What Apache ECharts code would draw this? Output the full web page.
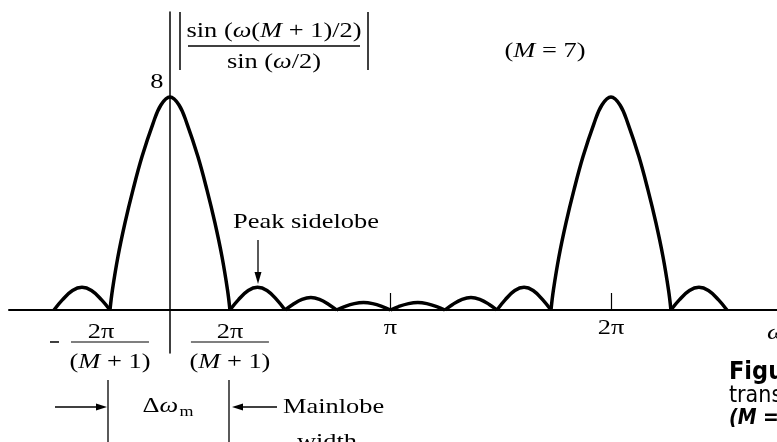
<!DOCTYPE html>
<html lang="en">

<head>
  <meta charset="UTF-8">
  <title>Rectangular window magnitude</title>
  <script src="https://cdn.jsdelivr.net/npm/echarts@6/dist/echarts.min.js"></script>
</head>

<body style="margin:0;background:#fff">
  <div id="main" style="width: 777px;height: 442px;"></div>
  <script>
    // x is omega in units of pi, y is |sin(w(M+1)/2) / sin(w/2)|  (M = 7)
    const leftSidelobe = [[-0.526, 0], [-0.488, 0.38], [-0.442, 0.73], [-0.399, 0.85], [-0.356, 0.73], [-0.31, 0.38], [-0.272, 0]]
    const mainLobe = [[-0.272, 0], [-0.261, 0.75], [-0.236, 2.0], [-0.204, 3.27], [-0.168, 4.5], [-0.127, 5.75], [-0.077, 7.0], [-0.041, 7.7],
      [0, 8], [0.041, 7.7], [0.077, 7.0], [0.127, 5.75], [0.168, 4.5], [0.204, 3.27], [0.236, 2.0], [0.261, 0.75], [0.272, 0]]
    const sidelobe1 = [[0.272, 0], [0.31, 0.38], [0.355, 0.73], [0.397, 0.85], [0.44, 0.73], [0.485, 0.38], [0.522, 0]]
    const sidelobe2 = [[0.522, 0], [0.557, 0.21], [0.599, 0.4], [0.639, 0.47], [0.678, 0.4], [0.72, 0.21], [0.755, 0]]
    const sidelobe3 = [[0.755, 0], [0.792, 0.13], [0.836, 0.24], [0.878, 0.28], [0.919, 0.24], [0.963, 0.13], [1.0, 0]]
    const sidelobe4 = [[1.0, 0], [1.037, 0.13], [1.082, 0.24], [1.124, 0.28], [1.165, 0.24], [1.21, 0.13], [1.247, 0]]
    const sidelobe5 = [[1.247, 0], [1.282, 0.21], [1.325, 0.4], [1.365, 0.47], [1.405, 0.4], [1.448, 0.21], [1.483, 0]]
    const sidelobe6 = [[1.483, 0], [1.52, 0.38], [1.564, 0.73], [1.606, 0.85], [1.647, 0.73], [1.691, 0.38], [1.728, 0]]
    const secondMainLobe = [[1.728, 0], [1.739, 0.75], [1.764, 2.0], [1.796, 3.27], [1.832, 4.5], [1.873, 5.75], [1.923, 7.0], [1.959, 7.7],
      [2.0, 8], [2.041, 7.7], [2.077, 7.0], [2.127, 5.75], [2.168, 4.5], [2.204, 3.27], [2.236, 2.0], [2.261, 0.75], [2.272, 0]]
    const rightSidelobe = [[2.272, 0], [2.31, 0.38], [2.356, 0.73], [2.399, 0.85], [2.442, 0.73], [2.488, 0.38], [2.526, 0]]

    const lobes = [leftSidelobe, mainLobe, sidelobe1, sidelobe2, sidelobe3, sidelobe4, sidelobe5, sidelobe6, secondMainLobe, rightSidelobe]

    // tick marks and tick labels on the omega axis
    const xTicks = [1, 2]
    const piLabels = [[1, 'π'], [2, '2π']]
    const fractionLabels = [-0.272, 0.272] // -2pi/(M+1), 2pi/(M+1)
    const peakValue = 8

    const serif = 'Liberation Serif'
    const narrow = '"Liberation Sans Narrow", "DejaVu Sans Condensed", sans-serif'
    const myChart = echarts.init(document.getElementById('main'))

    const richSerif = {
      r: { fontFamily: serif, fontSize: 22, color: '#000' },
      i: { fontFamily: serif, fontSize: 22, fontStyle: 'italic', color: '#000' },
      s: { fontFamily: serif, fontSize: 15, color: '#000', padding: [12, 0, 0, 1] }
    }

    function serifText(x, y, text, align) {
      return {
        type: 'text', x, y, scaleX: 1.2,
        style: {
          text, rich: richSerif, fill: '#000', fontFamily: serif, fontSize: 22,
          textAlign: align || 'center', textVerticalAlign: 'middle'
        }
      }
    }

    function line(x1, y1, x2, y2, w) {
      return { type: 'line', shape: { x1, y1, x2, y2 }, style: { stroke: '#000', lineWidth: w || 1.5 } }
    }

    function head(points) {
      return { type: 'polygon', shape: { points }, style: { fill: '#000' } }
    }

    function caption(y, text, font) {
      return { type: 'text', x: 729, y, style: { text, fill: '#000', font: font + ' ' + narrow, textVerticalAlign: 'middle' } }
    }

    const option = {
      animation: false,
      backgroundColor: '#fff',
      grid: { left: 9, right: 0, top: 12, bottom: 89, outerBoundsMode: 'none' },
      xAxis: {
        type: 'value',
        min: -0.73,
        max: 2.753,
        splitLine: { show: false },
        axisLine: { onZero: true, lineStyle: { color: '#000', width: 2 } },
        axisTick: { customValues: xTicks, inside: true, length: 17, lineStyle: { color: '#000', width: 1.2 } },
        axisLabel: { show: false }
      },
      yAxis: {
        type: 'value',
        min: -1.615,
        max: 11.19,
        splitLine: { show: false },
        axisLine: { show: true, onZero: true, lineStyle: { color: '#000', width: 1.5 } },
        axisTick: { show: false },
        axisLabel: { show: false }
      },
      series: lobes.map((d, k) => ({
        name: 'lobe' + k,
        type: 'line',
        data: d,
        smooth: 0.4,
        showSymbol: false,
        silent: true,
        lineStyle: { color: '#000', width: 3.5 }
      }))
    }

    myChart.setOption(option)

    // labels placed from the axis scales
    const px = v => myChart.convertToPixel({ gridIndex: 0 }, v)
    const origin = px([0, 0])
    const top8 = px([0, peakValue])

    const labels = []
    piLabels.forEach(([v, t]) => {
      labels.push(serifText(px([v, 0])[0], origin[1] + 18, '{r|' + t + '}'))
    })
    fractionLabels.forEach(v => {
      const cx = px([v, 0])[0]
      labels.push(serifText(v < 0 ? cx - 9 : cx, origin[1] + 22, '{r|2π}'))
      labels.push(line(cx - 39, origin[1] + 32, cx + 39, origin[1] + 32, 1.2))
      labels.push(serifText(cx, origin[1] + 52, '{r|(}{i|M}{r| + 1)}'))
      if (v < 0) labels.push(line(cx - 60, origin[1] + 32, cx - 51, origin[1] + 32, 1.5))
    })
    labels.push(serifText(top8[0] - 13, top8[1] - 15, '{r|8}'))

    myChart.setOption({
      graphic: labels.concat([
        // magnitude formula beside the vertical axis
        line(180, 12, 180, 70),
        line(368, 12, 368, 70),
        line(188, 46, 360, 46),
        serifText(274, 31, '{r|sin (}{i|ω}{r|(}{i|M}{r| + 1)/2)}'),
        serifText(274, 62, '{r|sin (}{i|ω}{r|/2)}'),
        serifText(545, 51, '{r|(}{i|M}{r| = 7)}'),
        // peak sidelobe note
        serifText(306, 222, '{r|Peak sidelobe}'),
        line(258, 240, 258, 276, 1.3),
        head([[254.5, 272], [261.5, 272], [258, 284]]),
        // mainlobe width marker
        line(108, 380, 108, 445, 1.3),
        line(229, 380, 229, 445, 1.3),
        line(55, 407, 100, 407, 1.3),
        head([[96, 403.5], [96, 410.5], [107, 407]]),
        line(240, 407, 277, 407, 1.3),
        head([[243, 403.5], [243, 410.5], [232, 407]]),
        serifText(168, 406, '{r|Δ}{i|ω}{s|m}'),
        serifText(283, 407, '{r|Mainlobe}', 'left'),
        serifText(327, 442, '{r|width}'),
        serifText(767, 333, '{i|ω}', 'left'),
        // caption, cut by the right edge
        caption(372, 'Figure', 'bold 25px'),
        caption(396, 'transform', '23px'),
        caption(419, '(M = 7)', 'italic bold 21px')
      ])
    })
  </script>
</body>

</html>
